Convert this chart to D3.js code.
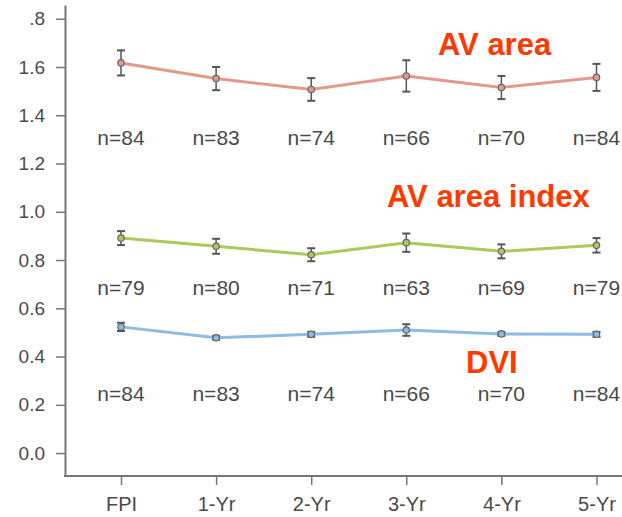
<!DOCTYPE html>
<html>
<head>
<meta charset="utf-8">
<script src="https://cdn.jsdelivr.net/npm/d3@7"></script>
<style>
  body { margin: 0; background: #fff; }
  svg { display: block; font-family: "Liberation Sans", Arial, Helvetica, sans-serif; }
</style>
</head>
<body>
<div id="chart"></div>
<script>
// categories and values
const categories = ["FPI", "1-Yr", "2-Yr", "3-Yr", "4-Yr", "5-Yr"];

const avArea = [1.617, 1.552, 1.507, 1.563, 1.515, 1.557];
const avAreaErr = [0.052, 0.048, 0.047, 0.065, 0.048, 0.056];
const avAreaN = ["n=84", "n=83", "n=74", "n=66", "n=70", "n=84"];

const avIndex = [0.891, 0.857, 0.822, 0.872, 0.836, 0.861];
const avIndexErr = [0.029, 0.031, 0.027, 0.038, 0.029, 0.030];
const avIndexN = ["n=79", "n=80", "n=71", "n=63", "n=69", "n=79"];

const dvi = [0.523, 0.478, 0.492, 0.510, 0.494, 0.492];
const dviErr = [0.017, 0.008, 0.010, 0.024, 0.008, 0.010];
const dviN = ["n=84", "n=83", "n=74", "n=66", "n=70", "n=84"];

const yTicks = [0, 0.2, 0.4, 0.6, 0.8, 1.0, 1.2, 1.4, 1.6, 1.8];
const yTickLabels = ["0.0", "0.2", "0.4", "0.6", "0.8", "1.0", "1.2", "1.4", "1.6", ".8"];

const width = 622;
const height = 517;

const svg = d3.select("#chart")
    .append("svg")
    .attr("width", width)
    .attr("height", height);

// scales
const x = d3.scalePoint().domain(categories).range([121, 596.5]);
const y = d3.scaleLinear().domain([-0.095, 1.857]).range([476, 5]);

const axisColor = "#777";
const textColor = "#4a4a4a";

// y axis
const yAxis = svg.append("g")
    .attr("transform", "translate(65,0)")
    .call(d3.axisLeft(y)
        .tickValues(yTicks)
        .tickFormat((d, i) => yTickLabels[i])
        .tickSize(9)
        .tickPadding(11)
        .tickSizeOuter(0));
yAxis.select(".domain").attr("stroke", axisColor).attr("stroke-width", 2);
yAxis.selectAll(".tick line").attr("stroke", axisColor).attr("stroke-width", 1.5);
yAxis.selectAll(".tick text")
    .attr("fill", textColor)
    .style("font-size", "19px");

// x axis
const xAxis = svg.append("g")
    .attr("transform", "translate(0,476)")
    .call(d3.axisBottom(x).tickSize(9).tickPadding(12).tickSizeOuter(0));
xAxis.select(".domain").remove();
xAxis.append("line")
    .attr("x1", 64).attr("x2", width)
    .attr("stroke", axisColor).attr("stroke-width", 2);
xAxis.selectAll(".tick line").attr("stroke", axisColor).attr("stroke-width", 1.5);
xAxis.selectAll(".tick text")
    .attr("fill", textColor)
    .style("font-size", "20px");

// series
const series = [
    { values: avArea, err: avAreaErr, n: avAreaN, color: "#e29a8a", nY: 145 },
    { values: avIndex, err: avIndexErr, n: avIndexN, color: "#abc95e", nY: 295 },
    { values: dvi, err: dviErr, n: dviN, color: "#8dbbe2", nY: 401 }
];

const line = d3.line()
    .x((d, i) => x(categories[i]))
    .y(d => y(d));

series.forEach(function (s) {
    const g = svg.append("g");

    g.append("path")
        .datum(s.values)
        .attr("d", line)
        .attr("fill", "none")
        .attr("stroke", s.color)
        .attr("stroke-width", 3);

    // error bars
    const eb = g.selectAll(".err")
        .data(s.values)
        .enter().append("g");
    eb.append("line")
        .attr("x1", (d, i) => x(categories[i]))
        .attr("x2", (d, i) => x(categories[i]))
        .attr("y1", (d, i) => y(d + s.err[i]))
        .attr("y2", (d, i) => y(d - s.err[i]))
        .attr("stroke", "#555")
        .attr("stroke-width", 1.5);
    [1, -1].forEach(function (sign) {
        eb.append("line")
            .attr("x1", (d, i) => x(categories[i]) - 4)
            .attr("x2", (d, i) => x(categories[i]) + 4)
            .attr("y1", (d, i) => y(d + sign * s.err[i]))
            .attr("y2", (d, i) => y(d + sign * s.err[i]))
            .attr("stroke", "#555")
            .attr("stroke-width", 2);
    });

    // markers
    g.selectAll(".dot")
        .data(s.values)
        .enter().append("circle")
        .attr("cx", (d, i) => x(categories[i]))
        .attr("cy", d => y(d))
        .attr("r", 3.2)
        .attr("fill", s.color)
        .attr("stroke", "#666")
        .attr("stroke-width", 1.2);

    // n labels
    g.selectAll(".n")
        .data(s.n)
        .enter().append("text")
        .attr("x", (d, i) => x(categories[i]))
        .attr("y", s.nY)
        .attr("text-anchor", "middle")
        .attr("fill", textColor)
        .style("font-size", "21px")
        .text(d => d);
});

// annotations
const notes = [
    { text: "AV area", x: 438, y: 55 },
    { text: "AV area index", x: 387, y: 207 },
    { text: "DVI", x: 466, y: 373 }
];
svg.selectAll(".note")
    .data(notes)
    .enter().append("text")
    .attr("x", d => d.x)
    .attr("y", d => d.y)
    .attr("fill", "#ff3a00")
    .style("font-size", "31px")
    .style("font-weight", "bold")
    .text(d => d.text);
</script>
</body>
</html>
